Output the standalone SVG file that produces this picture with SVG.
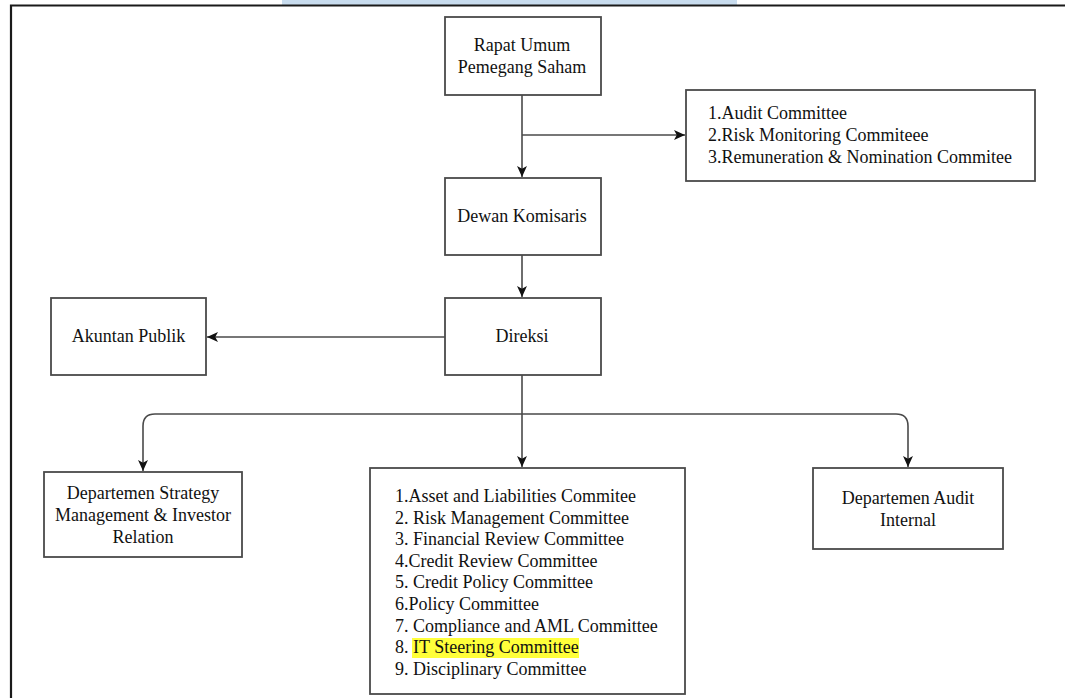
<svg xmlns="http://www.w3.org/2000/svg" width="1065" height="698" viewBox="0 0 1065 698">
<style>
.box{fill:#fff;stroke:#4a4a4a;stroke-width:1.8}
.t{font-family:'Liberation Serif','DejaVu Serif',serif;font-size:18px;fill:#111}
.c{text-anchor:middle}
.ln{fill:none;stroke:#4a4a4a;stroke-width:1.6}
</style>
<defs>
<marker id="ah" viewBox="0 0 10 10" refX="10" refY="5" markerWidth="11" markerHeight="11" markerUnits="userSpaceOnUse" orient="auto">
<path d="M0,0.5 L10,5 L0,9.5 L2.5,5 Z" fill="#111"/>
</marker>
</defs>
<rect x="0" y="0" width="1065" height="698" fill="#fff"/>
<rect x="282" y="0" width="455" height="5" fill="#c8dcee"/>
<path d="M11,698 V5.5 H1065" fill="none" stroke="#1a1a1a" stroke-width="2.2"/>

<g id="connectors">
<path class="ln" d="M522,95 V177" marker-end="url(#ah)"/>
<path class="ln" d="M522,135 H685" marker-end="url(#ah)"/>
<path class="ln" d="M522,255 V297" marker-end="url(#ah)"/>
<path class="ln" d="M445,337 H207" marker-end="url(#ah)"/>
<path class="ln" d="M522,375 V467" marker-end="url(#ah)"/>
<path class="ln" d="M522,414 H155 Q143,414 143,426 V471" marker-end="url(#ah)"/>
<path class="ln" d="M522,414 H896 Q908,414 908,426 V467" marker-end="url(#ah)"/>
</g>

<g id="rups">
<rect class="box" x="445" y="17" width="156" height="78"/>
<text class="t c" x="522" y="51">Rapat Umum</text>
<text class="t c" x="522" y="73">Pemegang Saham</text>
</g>
<g id="komite-dekom">
<rect class="box" x="686" y="90" width="349" height="91"/>
<text class="t" x="708" y="119">1.Audit Committee</text>
<text class="t" x="708" y="141">2.Risk Monitoring Commiteee</text>
<text class="t" x="708" y="163">3.Remuneration &amp; Nomination Commitee</text>
</g>
<g id="dewan-komisaris">
<rect class="box" x="445" y="178" width="156" height="77"/>
<text class="t c" x="522" y="222">Dewan Komisaris</text>
</g>
<g id="direksi">
<rect class="box" x="445" y="298" width="156" height="77"/>
<text class="t c" x="522" y="342">Direksi</text>
</g>
<g id="akuntan-publik">
<rect class="box" x="51" y="298" width="155" height="77"/>
<text class="t c" x="128.5" y="342">Akuntan Publik</text>
</g>
<g id="dept-strategy">
<rect class="box" x="44" y="472" width="198" height="85"/>
<text class="t c" x="143" y="499">Departemen Strategy</text>
<text class="t c" x="143" y="521">Management &amp; Investor</text>
<text class="t c" x="143" y="543">Relation</text>
</g>
<g id="komite-direksi">
<rect class="box" x="370" y="468" width="315" height="226"/>
<rect x="412" y="638" width="167" height="20" fill="#ffff3a"/>
<text class="t" x="395" y="502">1.Asset and Liabilities Commitee</text>
<text class="t" x="395" y="524">2. Risk Management Committee</text>
<text class="t" x="395" y="545">3. Financial Review Committee</text>
<text class="t" x="395" y="567">4.Credit Review Committee</text>
<text class="t" x="395" y="588">5. Credit Policy Committee</text>
<text class="t" x="395" y="610">6.Policy Committee</text>
<text class="t" x="395" y="632">7. Compliance and AML Committee</text>
<text class="t" x="395" y="653">8. IT Steering Committee</text>
<text class="t" x="395" y="675">9. Disciplinary Committee</text>
</g>
<g id="dept-audit">
<rect class="box" x="813" y="468" width="190" height="81"/>
<text class="t c" x="908" y="504">Departemen Audit</text>
<text class="t c" x="908" y="526">Internal</text>
</g>
</svg>
